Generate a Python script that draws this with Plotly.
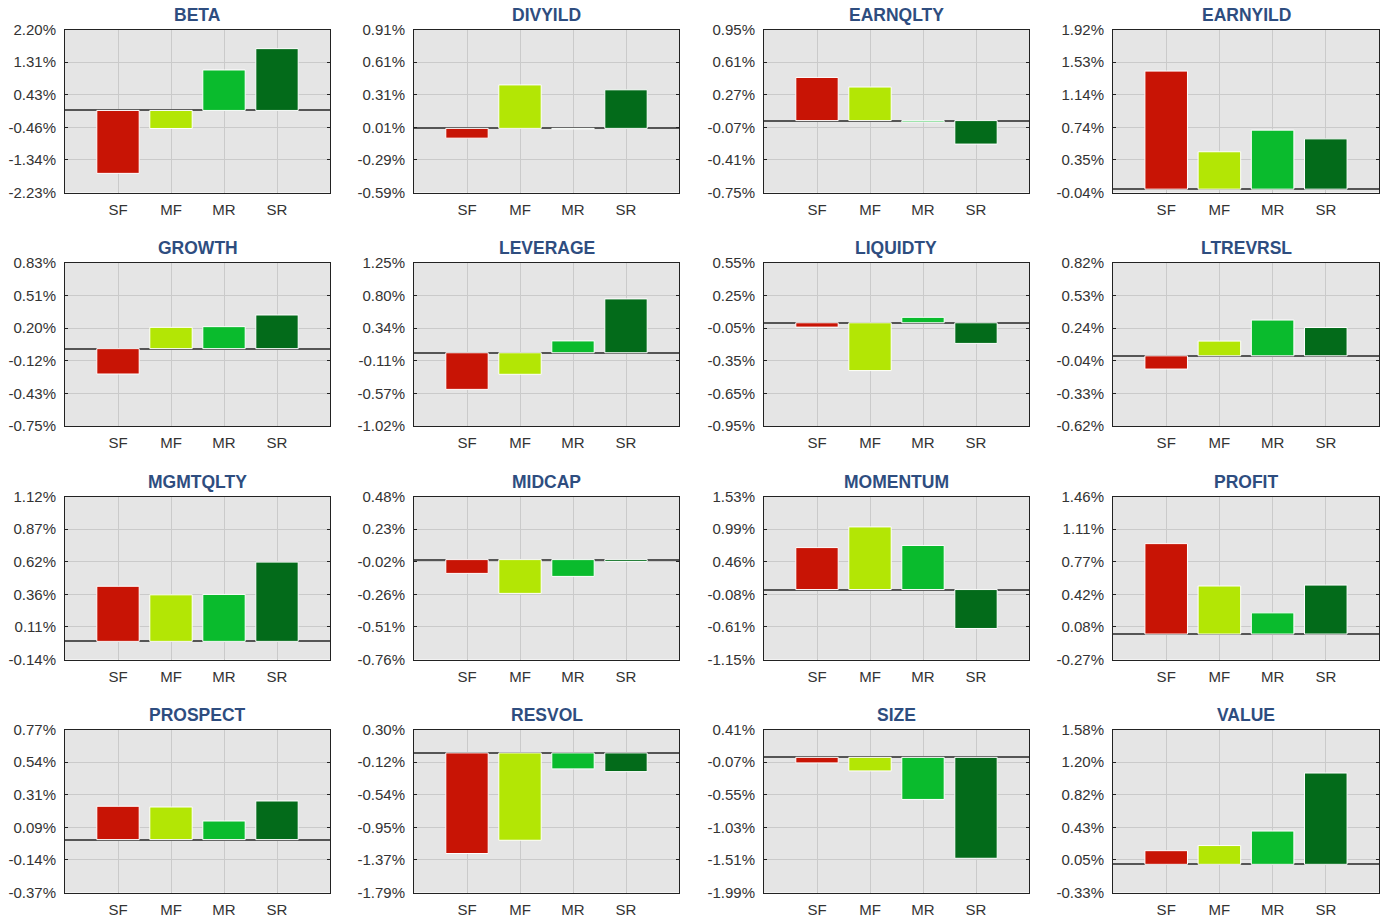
import plotly.graph_objects as go

categories = ["SF", "MF", "MR", "SR"]
factors = ["BETA", "DIVYILD", "EARNQLTY", "EARNYILD",
           "GROWTH", "LEVERAGE", "LIQUIDTY", "LTREVRSL",
           "MGMTQLTY", "MIDCAP", "MOMENTUM", "PROFIT",
           "PROSPECT", "RESVOL", "SIZE", "VALUE"]

# values in percent, one list per category (in factor order)
sf_values = [-1.71, -0.09, 0.45, 1.42, -0.246, -0.51, -0.04, -0.117,
             0.426, -0.105, 0.69, 0.96, 0.233, -1.29, -0.082, 0.16]
mf_values = [-0.49, 0.40, 0.35, 0.45, 0.206, -0.30, -0.44, 0.13,
             0.36, -0.257, 1.03, 0.51, 0.228, -1.12, -0.20, 0.22]
mr_values = [1.10, -0.005, -0.014, 0.71, 0.213, 0.165, 0.05, 0.316,
             0.363, -0.128, 0.725, 0.225, 0.13, -0.205, -0.62, 0.39]
sr_values = [1.68, 0.355, -0.245, 0.605, 0.326, 0.75, -0.19, 0.25,
             0.613, -0.014, -0.64, 0.52, 0.27, -0.24, -1.486, 1.07]

y_min = [-2.23, -0.59, -0.75, -0.04, -0.75, -1.02, -0.95, -0.62,
         -0.14, -0.76, -1.15, -0.27, -0.37, -1.79, -1.99, -0.33]
y_max = [2.20, 0.91, 0.95, 1.92, 0.83, 1.25, 0.55, 0.82,
         1.12, 0.48, 1.53, 1.46, 0.77, 0.30, 0.41, 1.58]

tick_labels = [
    ["-2.23%", "-1.34%", "-0.46%", "0.43%", "1.31%", "2.20%"],
    ["-0.59%", "-0.29%", "0.01%", "0.31%", "0.61%", "0.91%"],
    ["-0.75%", "-0.41%", "-0.07%", "0.27%", "0.61%", "0.95%"],
    ["-0.04%", "0.35%", "0.74%", "1.14%", "1.53%", "1.92%"],
    ["-0.75%", "-0.43%", "-0.12%", "0.20%", "0.51%", "0.83%"],
    ["-1.02%", "-0.57%", "-0.11%", "0.34%", "0.80%", "1.25%"],
    ["-0.95%", "-0.65%", "-0.35%", "-0.05%", "0.25%", "0.55%"],
    ["-0.62%", "-0.33%", "-0.04%", "0.24%", "0.53%", "0.82%"],
    ["-0.14%", "0.11%", "0.36%", "0.62%", "0.87%", "1.12%"],
    ["-0.76%", "-0.51%", "-0.26%", "-0.02%", "0.23%", "0.48%"],
    ["-1.15%", "-0.61%", "-0.08%", "0.46%", "0.99%", "1.53%"],
    ["-0.27%", "0.08%", "0.42%", "0.77%", "1.11%", "1.46%"],
    ["-0.37%", "-0.14%", "0.09%", "0.31%", "0.54%", "0.77%"],
    ["-1.79%", "-1.37%", "-0.95%", "-0.54%", "-0.12%", "0.30%"],
    ["-1.99%", "-1.51%", "-1.03%", "-0.55%", "-0.07%", "0.41%"],
    ["-0.33%", "0.05%", "0.43%", "0.82%", "1.20%", "1.58%"],
]

bar_colors = ["#c81405", "#b3e605", "#0abb2d", "#036b1a"]

W, H = 1383, 917
col_px = [(65, 330), (414, 679), (764, 1029), (1113, 1379)]
row_px = [(29.5, 192.5), (263, 426), (496.5, 659.5), (729.5, 892.5)]

fig = go.Figure()
layout = dict(
    width=W, height=H,
    margin=dict(l=0, r=0, t=0, b=0, pad=0, autoexpand=False),
    paper_bgcolor="white",
    plot_bgcolor="#e5e5e5",
    showlegend=False,
    bargap=0.2,
    font=dict(family="Liberation Sans, Arial, sans-serif", size=15, color="#333333"),
)
annotations = []
series = [sf_values, mf_values, mr_values, sr_values]

for i, name in enumerate(factors):
    r, c = divmod(i, 4)
    n = i + 1
    xa = "x" if n == 1 else f"x{n}"
    ya = "y" if n == 1 else f"y{n}"
    vals = [s[i] for s in series]
    fig.add_trace(go.Bar(
        x=categories, y=vals, xaxis=xa, yaxis=ya,
        marker=dict(color=bar_colors, line=dict(color="white", width=1)),
        width=0.8,
    ))
    x0, x1 = col_px[c]
    yt, yb = row_px[r]
    xd = [x0 / W, x1 / W]
    yd = [1 - yb / H, 1 - yt / H]
    lo, hi = y_min[i], y_max[i]
    step = (hi - lo) / 5
    tickvals = [lo + k * step for k in range(6)]
    layout[f"xaxis{n}"] = dict(
        domain=xd, anchor=ya, type="category", range=[-1, 4],
        automargin=False,
        showgrid=True, gridcolor="#cacaca", gridwidth=1,
        showline=True, linecolor="#222222", linewidth=1, mirror=True,
        ticks="", ticklabelstandoff=3,
        tickfont=dict(size=15, color="#333333"),
        fixedrange=True,
    )
    layout[f"yaxis{n}"] = dict(
        domain=yd, anchor=xa, range=[lo, hi],
        automargin=False,
        tickmode="array", tickvals=tickvals, ticktext=tick_labels[i],
        showgrid=True, gridcolor="#cacaca", gridwidth=1,
        zeroline=True, zerolinecolor="#555555", zerolinewidth=1.5,
        showline=True, linecolor="#222222", linewidth=1, mirror="ticks",
        ticks="inside", ticklen=3, tickcolor="#222222",
        ticklabelstandoff=5,
        tickfont=dict(size=15, color="#333333"),
        fixedrange=True,
    )
    annotations.append(dict(
        text=f"<b>{name}</b>", xref="paper", yref="paper",
        x=(xd[0] + xd[1]) / 2, y=yd[1], xanchor="center", yanchor="bottom",
        yshift=3, showarrow=False,
        font=dict(family="Liberation Sans, Arial, sans-serif", size=17.5, color="#2e4d7f"),
    ))

layout["annotations"] = annotations
fig.update_layout(**layout)
fig.write_html("out.html")
